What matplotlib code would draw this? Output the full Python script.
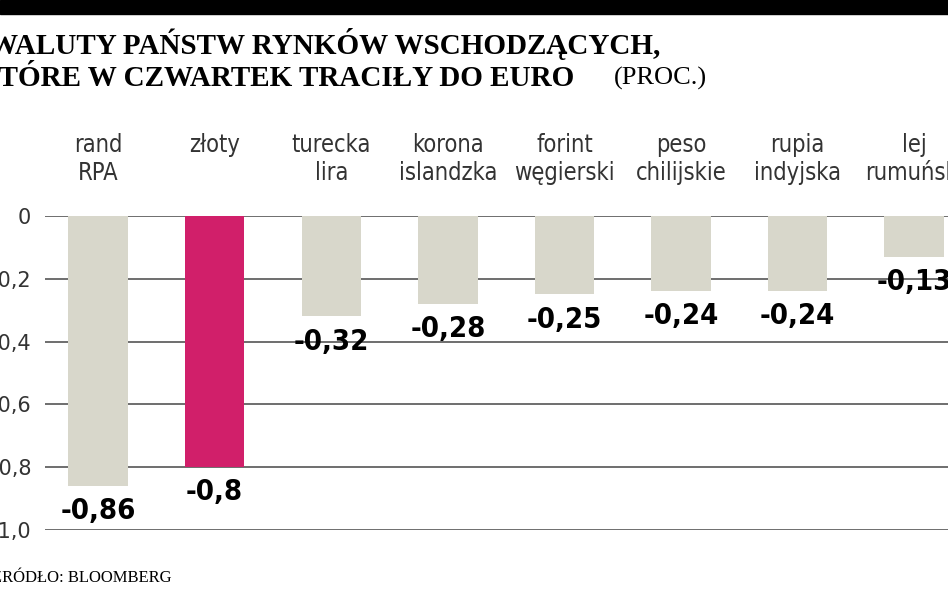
import matplotlib.pyplot as plt

categories = ["rand\nRPA", "złoty", "turecka\nlira", "korona\nislandzka", "forint\nwęgierski",
              "peso\nchilijskie", "rupia\nindyjska", "lej\nrumuński"]
values = [-0.86, -0.8, -0.32, -0.28, -0.25, -0.24, -0.24, -0.13]
labels = ["-0,86", "-0,8", "-0,32", "-0,28", "-0,25", "-0,24", "-0,24", "-0,13"]
ticks = [0, -0.2, -0.4, -0.6, -0.8, -1.0]
tick_labels = ["0", "-0,2", "-0,4", "-0,6", "-0,8", "-1,0"]

gray = "#d8d7cb"
pink = "#d11f6a"

fig = plt.figure(figsize=(9.48, 5.93), dpi=100)
fig.patches.append(plt.Rectangle((0, 1 - 14 / 593), 1, 14 / 593, transform=fig.transFigure,
                                 color="black", zorder=5))

# title, cut at the left edge like the reference
fig.text(-0.012, 0.925, "WALUTY PAŃSTW RYNKÓW WSCHODZĄCYCH,", family="Liberation Serif",
         fontsize=21, fontweight="bold", va="center")
fig.text(-0.025, 0.868, "KTÓRE W CZWARTEK TRACIŁY DO EURO", family="Liberation Serif",
         fontsize=21, fontweight="bold", va="center")
fig.text(0.648, 0.868, "(PROC.)", family="Liberation Serif", fontsize=19, va="center")

ax = fig.add_axes([45 / 948, 63 / 593, 903 / 948, 314 / 593])
x = list(range(len(values)))
colors = [pink if c == "złoty" else gray for c in categories]
ax.bar(x, values, width=0.51, color=colors, zorder=2)
ax.set_xlim(-0.455, 7.29)
ax.set_ylim(-1.0, 0)
ax.set_yticks(ticks)
ax.set_yticklabels(tick_labels, family="DejaVu Sans", fontsize=15, color="#333333")
ax.tick_params(axis="y", length=0, pad=10)
ax.set_xticks([])
ax.grid(axis="y", color="#555555", linewidth=1.2, zorder=1)
for s in ax.spines.values():
    s.set_visible(False)

for i, (c, v, l) in enumerate(zip(categories, values, labels)):
    ax.annotate(c, (i, 0), xytext=(0, 60), textcoords="offset points", ha="center",
                va="top", fontsize=17, color="#333333", linespacing=1.25,
                fontstretch="condensed", annotation_clip=False)
    ax.annotate(l, (i, v), xytext=(0, -8), textcoords="offset points", ha="center",
                va="top", fontsize=21, fontweight="bold", fontstretch="condensed",
                annotation_clip=False)

fig.text(-0.008, 0.025, "ŹRÓDŁO: BLOOMBERG", family="Liberation Serif", fontsize=12,
         va="center")

fig.savefig("out.png", dpi=100)
